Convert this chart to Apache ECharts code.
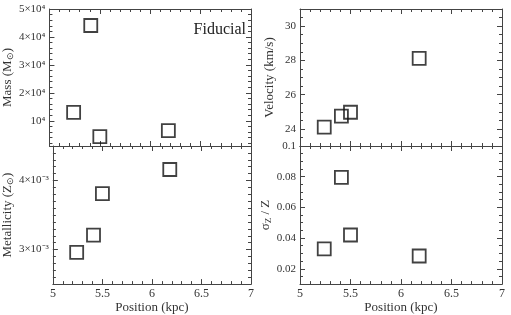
<!DOCTYPE html>
<html>
<head>
<meta charset="utf-8">
<script src="https://cdn.jsdelivr.net/npm/echarts@6/dist/echarts.min.js"></script>
<style>html,body{margin:0;padding:0;background:#fff}#c{width:511px;height:315px}</style>
</head>
<body>
<div id="c"></div>
<script>
// ---- data ----
var positions = [5.24, 5.41, 5.50, 6.18];
var mass = [13000, 44100, 4350, 6470];
var velocity = [24.10, 24.74, 24.97, 28.12];
var metallicity = [2.96e-3, 3.21e-3, 3.81e-3, 4.16e-3];
var sigmaZ = [0.033, 0.0796, 0.042, 0.0283];

// ---- ticks ----
var xTicks = [5, 5.5, 6, 6.5, 7];
var xTickLabels = ['5', '5.5', '6', '6.5', '7'];
var massTicks = [10000, 20000, 30000, 40000, 50000];
var massTickLabels = ['10\u2074', '2\u00d710\u2074', '3\u00d710\u2074', '4\u00d710\u2074', '5\u00d710\u2074'];
var velTicks = [24, 26, 28, 30];
var velTickLabels = ['24', '26', '28', '30'];
var metTicks = [3e-3, 4e-3];
var metTickLabels = ['3\u00d710\u207b\u00b3', '4\u00d710\u207b\u00b3'];
var sigTicks = [0.02, 0.04, 0.06, 0.08, 0.1];
var sigTickLabels = ['0.02', '0.04', '0.06', '0.08', '0.1'];

function minorList(min, max, step) {
  var out = [];
  var start = Math.ceil(min / step - 1e-9);
  for (var k = start; k * step <= max + 1e-12; k++) out.push(Math.round(k * step * 1e9) / 1e9);
  return out;
}

var FONT = 'Liberation Serif';
var TXT = '#333';
var LINE = '#444';

var panels = [
  {left: 49, top: 9, height: 137, ymin: 1000, ymax: 50000, yt: massTicks, yl: massTickLabels, ystep: 2000,
   ys: mass, name: 'Mass (M{s|\u2299})', nameGap: 30, bottomLabels: false},
  {left: 300, top: 9, height: 137, ymin: 23, ymax: 31, yt: velTicks, yl: velTickLabels, ystep: 0.5,
   ys: velocity, name: 'Velocity (km/s)', nameGap: 24, bottomLabels: false},
  {left: 49, top: 146, height: 139, ymin: 2.5e-3, ymax: 4.5e-3, yt: metTicks, yl: metTickLabels, ystep: 1e-4,
   ys: metallicity, name: 'Metallicity (Z{s|\u2299})', nameGap: 30, bottomLabels: true},
  {left: 300, top: 146, height: 139, ymin: 0.01, ymax: 0.1, yt: sigTicks, yl: sigTickLabels, ystep: 0.005,
   ys: sigmaZ, name: '\u03c3{s|Z} / Z', nameGap: 24, bottomLabels: true}
];

var grids = [], xAxes = [], yAxes = [], series = [];
var richName = {s: {fontFamily: FONT, fontSize: 9, color: TXT, padding: [6, 0, 0, 0]}};

panels.forEach(function (p, g) {
  grids.push({left: p.left, top: p.top, width: 202, height: p.height});
  var xMinor = minorList(5, 7, 0.1);
  var yMinor = minorList(p.ymin, p.ymax, p.ystep);
  function xa(pos, ticks, len, line, labels) {
    var a = {
      type: 'value', gridIndex: g, position: pos, min: 5, max: 7,
      splitLine: {show: false},
      axisLine: {show: line, onZero: false, lineStyle: {color: LINE, width: 1}},
      axisTick: {show: true, inside: true, length: len, customValues: ticks, lineStyle: {color: LINE, width: 1}},
      axisLabel: {show: false}
    };
    if (labels) {
      a.axisLabel = {show: true, customValues: xTicks, fontFamily: FONT, fontSize: 12, color: TXT, margin: 4,
        formatter: function (v) { var i = xTicks.indexOf(v); return i >= 0 ? xTickLabels[i] : ''; }};
      a.name = 'Position (kpc)';
      a.nameLocation = 'middle';
      a.nameGap = 16;
      a.nameTextStyle = {fontFamily: FONT, fontSize: 13, color: TXT};
    }
    return a;
  }
  function ya(pos, ticks, len, line, labels) {
    var a = {
      type: 'value', gridIndex: g, position: pos, min: p.ymin, max: p.ymax,
      splitLine: {show: false},
      axisLine: {show: line, onZero: false, lineStyle: {color: LINE, width: 1}},
      axisTick: {show: true, inside: true, length: len, customValues: ticks, lineStyle: {color: LINE, width: 1}},
      axisLabel: {show: false}
    };
    if (labels) {
      a.axisLabel = {show: true, customValues: p.yt, fontFamily: FONT, fontSize: 11, color: TXT, margin: 4,
        formatter: function (v) {
          for (var i = 0; i < p.yt.length; i++) if (Math.abs(p.yt[i] - v) / Math.abs(v) < 1e-6) return p.yl[i];
          return '';
        }};
      a.name = p.name;
      a.nameLocation = 'middle';
      a.nameGap = p.nameGap;
      a.nameRotate = 90;
      a.nameTextStyle = {fontFamily: FONT, fontSize: 13, color: TXT, rich: richName};
    }
    return a;
  }
  var xi = xAxes.length;
  xAxes.push(xa('bottom', xTicks, 5, true, p.bottomLabels));
  xAxes.push(xa('bottom', xMinor, 3, false, false));
  xAxes.push(xa('top', xTicks, 5, true, false));
  xAxes.push(xa('top', xMinor, 3, false, false));
  var yi = yAxes.length;
  yAxes.push(ya('left', p.yt, 5, true, true));
  yAxes.push(ya('left', yMinor, 3, false, false));
  yAxes.push(ya('right', p.yt, 5, true, false));
  yAxes.push(ya('right', yMinor, 3, false, false));

  series.push({
    type: 'scatter', xAxisIndex: xi, yAxisIndex: yi,
    symbol: 'rect', symbolSize: 13,
    itemStyle: {color: 'rgba(255,255,255,0)', borderColor: '#111', borderWidth: 1.8},
    data: positions.map(function (x, i) { return [x, p.ys[i]]; }),
    silent: true, animation: false
  });
});

var chart = echarts.init(document.getElementById('c'), null, {renderer: 'canvas'});
chart.setOption({
  animation: false,
  backgroundColor: '#fff',
  grid: grids,
  xAxis: xAxes,
  yAxis: yAxes,
  series: series,
  graphic: [{
    type: 'text', right: 265, top: 22,
    style: {text: 'Fiducial', fontFamily: FONT, fontSize: 16, fill: '#222'}
  }]
});
</script>
</body>
</html>
